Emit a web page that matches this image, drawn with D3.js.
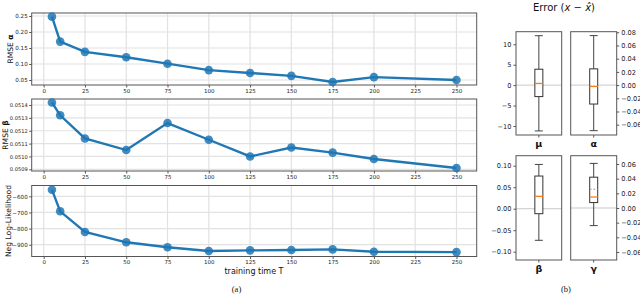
<!DOCTYPE html>
<html>
<head>
<meta charset="utf-8">
<script src="https://cdn.jsdelivr.net/npm/d3@7"></script>
<style>
  body { margin: 0; background: #fff; }
  svg { display: block; font-family: "DejaVu Sans", sans-serif; }
</style>
</head>
<body>
<svg id="chart" width="640" height="295"></svg>
<script>
// training times (x axis)
const times = [5, 10, 25, 50, 75, 100, 125, 150, 175, 200, 250];
const xTicks = [0, 25, 50, 75, 100, 125, 150, 175, 200, 225, 250];

// series values
const rmseAlpha = [0.248, 0.170, 0.138, 0.121, 0.101, 0.081, 0.072, 0.063, 0.044, 0.059, 0.050];
const rmseBeta = [0.05142, 0.05132, 0.05114, 0.05105, 0.05126, 0.05113, 0.05100, 0.05107, 0.05103, 0.05098, 0.05091];
const negLogLik = [-559, -693, -821, -885, -916, -939, -935, -933, -929, -944, -946];

const alphaTicks = [0.05, 0.10, 0.15, 0.20, 0.25];
const betaTicks = [0.0509, 0.0510, 0.0511, 0.0512, 0.0513, 0.0514];
const nllTicks = [-600, -700, -800, -900];

// box plot stats: [low whisker, q1, median, q3, high whisker, mean]
const boxNames = ["μ", "α", "β", "γ"];
const boxStats = [
  [-11.2, -2.8, 0.4, 3.9, 12.1, 0.45],
  [-0.069, -0.0287, -0.002, 0.0246, 0.075, -0.0015],
  [-0.0735, -0.0116, 0.0288, 0.076, 0.103, 0.0285],
  [-0.024, 0.0074, 0.015, 0.042, 0.0608, 0.0256]
];
const boxTicks = [
  [10, 5, 0, -5, -10],
  [0.08, 0.06, 0.04, 0.02, 0.00, -0.02, -0.04, -0.06],
  [0.10, 0.05, 0.00, -0.05, -0.10],
  [0.06, 0.04, 0.02, 0.00, -0.02, -0.04, -0.06]
];

const svg = d3.select("#chart");
const blue = "#1f77b4";
const frameColor = "#555";
const gridColor = "#e2e2e2";
const minus = s => s.replace("-", "\u2212");

const x = d3.scaleLinear().domain([-7.25, 262.25]).range([31.7, 476.7]);

const lineCharts = [
  { values: rmseAlpha, ticks: alphaTicks, fmt: d3.format(".2f"), domain: [0.0344, 0.2594], top: 13, bottom: 85, label: ["RMSE ", "α"], labelX: 13, fs: 5.6 },
  { values: rmseBeta, ticks: betaTicks, fmt: d3.format(".4f"), domain: [0.050887, 0.0514467], top: 99, bottom: 171, label: ["RMSE ", "β"], labelX: 7.5, fs: 5.1 },
  { values: negLogLik, ticks: nllTicks, fmt: d3.format("d"), domain: [-973, -533], top: 185.5, bottom: 256.5, label: ["Neg Log-Likelihood", ""], labelX: 11, fs: 5.6 }
];

lineCharts.forEach(c => {
  const y = d3.scaleLinear().domain(c.domain).range([c.bottom, c.top]);
  const g = svg.append("g");

  // grid
  g.selectAll(".vg").data(xTicks).enter().append("line")
    .attr("x1", d => x(d)).attr("x2", d => x(d))
    .attr("y1", c.top).attr("y2", c.bottom)
    .attr("stroke", gridColor).attr("stroke-width", 1.2);
  g.selectAll(".hg").data(c.ticks).enter().append("line")
    .attr("x1", x.range()[0]).attr("x2", x.range()[1])
    .attr("y1", d => y(d)).attr("y2", d => y(d))
    .attr("stroke", gridColor).attr("stroke-width", 1.2);

  // axes
  const xAxis = d3.axisBottom(x).tickValues(xTicks).tickSize(2.5).tickPadding(1.5);
  g.append("g").attr("transform", `translate(0,${c.bottom})`).call(xAxis)
    .call(a => a.select(".domain").remove())
    .call(a => a.selectAll("text").attr("font-size", 5.5).attr("fill", "#222").attr("font-family", "DejaVu Sans"))
    .call(a => a.selectAll("line").attr("stroke", frameColor));
  const yAxis = d3.axisLeft(y).tickValues(c.ticks).tickSize(2.5).tickPadding(1.5)
    .tickFormat(d => minus(c.fmt(d)));
  g.append("g").attr("transform", `translate(${x.range()[0]},0)`).call(yAxis)
    .call(a => a.select(".domain").remove())
    .call(a => a.selectAll("text").attr("font-size", c.fs).attr("fill", "#222").attr("font-family", "DejaVu Sans"))
    .call(a => a.selectAll("line").attr("stroke", frameColor));

  // frame
  g.append("rect")
    .attr("x", x.range()[0]).attr("y", c.top)
    .attr("width", x.range()[1] - x.range()[0]).attr("height", c.bottom - c.top)
    .attr("fill", "none").attr("stroke", frameColor).attr("stroke-width", 1);

  // line + markers
  const pts = times.map((t, i) => [t, c.values[i]]);
  g.append("path").datum(pts)
    .attr("d", d3.line().x(d => x(d[0])).y(d => y(d[1])))
    .attr("fill", "none").attr("stroke", blue).attr("stroke-width", 2.4);
  g.selectAll(".pt").data(pts).enter().append("circle")
    .attr("cx", d => x(d[0])).attr("cy", d => y(d[1])).attr("r", 4.3)
    .attr("fill", blue).attr("fill-opacity", 0.85);

  // y label
  const lbl = g.append("text")
    .attr("transform", `translate(${c.labelX},${(c.top + c.bottom) / 2}) rotate(-90)`)
    .attr("text-anchor", "middle").attr("font-size", 7.6).attr("fill", "#111");
  lbl.append("tspan").text(c.label[0]);
  if (c.label[1]) lbl.append("tspan").attr("font-weight", "bold").text(c.label[1]);
});

svg.append("text").attr("x", 254).attr("y", 274).attr("text-anchor", "middle")
  .attr("font-size", 8).attr("fill", "#111").text("training time T");
svg.append("text").attr("x", 236.5).attr("y", 292).attr("text-anchor", "middle")
  .attr("font-family", "Liberation Serif, serif").attr("font-size", 8.5).attr("fill", "#111").text("(a)");

// ---- box plots ----
const boxPanels = [
  { left: 516, right: 561.7, top: 31.7, bottom: 135, domain: [-12.2, 13.08], side: "left", fmt: d3.format("d") },
  { left: 570.7, right: 616.7, top: 31.7, bottom: 135, domain: [-0.0756, 0.0809], side: "right", fmt: d3.format(".2f") },
  { left: 516, right: 561.7, top: 155.7, bottom: 260, domain: [-0.1193, 0.1233], side: "left", fmt: d3.format(".2f") },
  { left: 570.7, right: 616.7, top: 155.7, bottom: 260, domain: [-0.0709, 0.0713], side: "right", fmt: d3.format(".2f") }
];

boxPanels.forEach((p, i) => {
  const y = d3.scaleLinear().domain(p.domain).range([p.bottom, p.top]);
  const g = svg.append("g");
  const cx = (p.left + p.right) / 2;
  const [lo, q1, med, q3, hi, mean] = boxStats[i];
  const hw = 4;

  // zero line
  g.append("line").attr("x1", p.left).attr("x2", p.right)
    .attr("y1", y(0)).attr("y2", y(0)).attr("stroke", "#bbb").attr("stroke-width", 0.8);

  // whiskers
  g.append("line").attr("x1", cx).attr("x2", cx).attr("y1", y(hi)).attr("y2", y(q3))
    .attr("stroke", "#444").attr("stroke-width", 1);
  g.append("line").attr("x1", cx).attr("x2", cx).attr("y1", y(q1)).attr("y2", y(lo))
    .attr("stroke", "#444").attr("stroke-width", 1);
  [hi, lo].forEach(v => g.append("line")
    .attr("x1", cx - hw).attr("x2", cx + hw).attr("y1", y(v)).attr("y2", y(v))
    .attr("stroke", "#444").attr("stroke-width", 1));
  g.append("rect").attr("x", cx - hw).attr("y", y(q3))
    .attr("width", 2 * hw).attr("height", y(q1) - y(q3))
    .attr("fill", "#fff").attr("stroke", "#333").attr("stroke-width", 1);
  g.append("line").attr("x1", cx - hw).attr("x2", cx + hw).attr("y1", y(mean)).attr("y2", y(mean))
    .attr("stroke", "#999").attr("stroke-width", 0.9).attr("stroke-dasharray", "2,1.5");
  g.append("line").attr("x1", cx - hw).attr("x2", cx + hw).attr("y1", y(med)).attr("y2", y(med))
    .attr("stroke", "#ff7f0e").attr("stroke-width", 1.3);

  // axis
  const axis = (p.side === "left" ? d3.axisLeft(y) : d3.axisRight(y))
    .tickValues(boxTicks[i]).tickSize(2.5).tickPadding(2)
    .tickFormat(d => minus(p.fmt(d)));
  g.append("g").attr("transform", `translate(${p.side === "left" ? p.left : p.right},0)`).call(axis)
    .call(a => a.select(".domain").remove())
    .call(a => a.selectAll("text").attr("font-size", 6.6).attr("fill", "#222").attr("font-family", "DejaVu Sans"))
    .call(a => a.selectAll("line").attr("stroke", frameColor));

  // bottom tick
  g.append("line").attr("x1", cx).attr("x2", cx).attr("y1", p.bottom).attr("y2", p.bottom + 2.5)
    .attr("stroke", frameColor);

  g.append("rect").attr("x", p.left).attr("y", p.top)
    .attr("width", p.right - p.left).attr("height", p.bottom - p.top)
    .attr("fill", "none").attr("stroke", frameColor).attr("stroke-width", 1);

  g.append("text").attr("x", cx).attr("y", p.bottom + 12).attr("text-anchor", "middle")
    .attr("font-size", 9.5).attr("font-weight", "bold").attr("fill", "#111").text(boxNames[i]);
});

const title = svg.append("text").attr("x", 564).attr("y", 11).attr("text-anchor", "middle")
  .attr("font-size", 10).attr("fill", "#111");
title.append("tspan").text("Error (");
title.append("tspan").attr("font-style", "italic").text("x");
title.append("tspan").text(" \u2212 ");
title.append("tspan").attr("font-style", "italic").text("x\u0302");
title.append("tspan").text(")");

svg.append("text").attr("x", 566).attr("y", 292).attr("text-anchor", "middle")
  .attr("font-family", "Liberation Serif, serif").attr("font-size", 8.5).attr("fill", "#111").text("(b)");
</script>
</body>
</html>
